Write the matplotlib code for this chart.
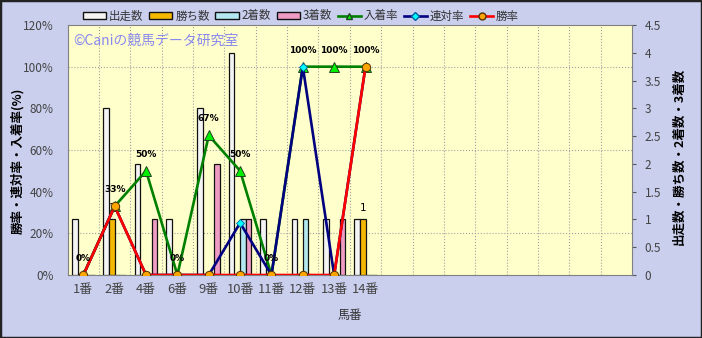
import numpy as np
import matplotlib
matplotlib.use('Agg')
from matplotlib import pyplot as plt
from matplotlib.patches import Patch, Rectangle
from matplotlib.lines import Line2D

plt.rcParams['font.family'] = ['Noto Sans CJK JP', 'DejaVu Sans']

# data
horses = ['1番', '2番', '4番', '6番', '9番', '10番', '11番', '12番', '13番', '14番']
n_slots = 18  # the category axis keeps room for 18 horses

starts = [1, 3, 2, 1, 3, 4, 1, 1, 1, 1]      # 出走数
wins = [0, 1, 0, 0, 0, 0, 0, 0, 0, 1]        # 勝ち数
seconds = [0, 0, 0, 0, 0, 1, 0, 1, 0, 0]     # 2着数
thirds = [0, 0, 1, 0, 2, 1, 0, 0, 1, 0]      # 3着数

place_rate = [0, 33, 50, 0, 67, 50, 0, 100, 100, 100]   # 入着率
quin_rate = [0, 33, 0, 0, 0, 25, 0, 100, 0, 100]        # 連対率
win_rate = [0, 33, 0, 0, 0, 0, 0, 0, 0, 100]           # 勝率

pct_ticks = [0, 20, 40, 60, 80, 100, 120]
cnt_ticks = [0, 0.5, 1, 1.5, 2, 2.5, 3, 3.5, 4, 4.5]

BG = '#CACFEE'
fig = plt.figure(figsize=(7.02, 3.38), dpi=100, facecolor=BG)
fig.patches.append(Rectangle((0, 0), 1, 1, transform=fig.transFigure,
                             fill=False, edgecolor='#222222', linewidth=2.5))

ax_bar = fig.add_axes([0.0964, 0.1864, 0.8039, 0.7396])
ax_bar.set_facecolor('#FFFFCC')
ax = ax_bar.twinx()
ax.patch.set_visible(False)

x = np.arange(len(horses))
w = 0.18
series = [(starts, '#F4F4F4'), (wins, '#F5B800'), (seconds, '#B4E8F0'), (thirds, '#EE9CC4')]
for i, (vals, col) in enumerate(series):
    ax_bar.bar(x + (i - 1.5) * w, vals, width=w, color=col,
               edgecolor='#111111', linewidth=0.9, zorder=2)

for xi, v in zip(x, wins):
    if v > 0:
        ax_bar.annotate(str(v), (xi - 0.5 * w, v), xytext=(0, 8.5),
                        textcoords='offset points', ha='center', va='center',
                        fontsize=7.5, family='DejaVu Sans', zorder=3)

ax_bar.set_xlim(-0.5, n_slots - 0.5)
ax_bar.set_ylim(0, 4.5)
ax_bar.yaxis.tick_right()
ax_bar.set_yticks(cnt_ticks)
ax_bar.set_yticklabels([('%g' % t) for t in cnt_ticks])
ax_bar.tick_params(axis='y', direction='out', length=3, pad=6,
                   labelsize=8.5, labelcolor='#444444', color='#555555')
# gridlines at 20% steps and at slot boundaries
ax_bar.set_yticks([p / 120 * 4.5 for p in pct_ticks[1:-1]], minor=True)
ax_bar.set_xticks(np.arange(n_slots - 1) + 0.5, minor=True)
ax_bar.tick_params(which='minor', length=0)
ax_bar.grid(which='minor', color='#A0A0A0', linestyle=':', linewidth=0.8)
ax_bar.set_axisbelow(True)
ax_bar.set_xticks(x)
ax_bar.set_xticklabels(horses)
ax_bar.tick_params(axis='x', length=0, pad=6, labelsize=9.3, labelcolor='#444444')
ax_bar.set_xlabel('馬番', fontsize=8.8, color='#333333', labelpad=9)
for s in ax_bar.spines.values():
    s.set_color('#808080')

# rate lines
ax.plot(x, place_rate, color='#008000', linewidth=1.9, marker='^', markersize=7,
        markerfacecolor='#00EE00', markeredgecolor='#224422', markeredgewidth=0.7, zorder=3)
ax.plot(x, quin_rate, color='#000080', linewidth=1.9, marker='D', markersize=4.5,
        markerfacecolor='#00FFFF', markeredgecolor='#0060A0', markeredgewidth=0.6, zorder=4)
ax.plot(x, win_rate, color='#FF0000', linewidth=1.9, marker='o', markersize=6,
        markerfacecolor='#FFA500', markeredgecolor='#553300', markeredgewidth=0.7, zorder=5)

for xi, v in zip(x, place_rate):
    ax.annotate('%d%%' % v, (xi, v), xytext=(0, 12), textcoords='offset points',
                ha='center', va='center', fontsize=6.5, fontweight='bold',
                family='DejaVu Sans', zorder=6)

ax.set_ylim(0, 120)
ax.yaxis.tick_left()
ax.set_yticks(pct_ticks)
ax.set_yticklabels(['%d%%' % t for t in pct_ticks])
ax.tick_params(axis='y', length=0, pad=10, labelsize=8.5, labelcolor='#444444')
for s in ax.spines.values():
    s.set_visible(False)

fig.text(18 / 702, 1 - 161 / 338, '勝率・連対率・入着率(%)', rotation=90,
         ha='center', va='center', fontsize=9, fontweight='bold')
fig.text(679 / 702, 1 - 156 / 338, '出走数・勝ち数・2着数・3着数', rotation=90,
         ha='center', va='center', fontsize=9, fontweight='bold')

ax.text(0.009, 0.935, '©Caniの競馬データ研究室', transform=ax.transAxes,
        fontsize=10, color='#8888EE', va='center', ha='left', zorder=1)

handles = [
    Patch(facecolor='#F4F4F4', edgecolor='#111111', label='出走数'),
    Patch(facecolor='#F5B800', edgecolor='#111111', label='勝ち数'),
    Patch(facecolor='#B4E8F0', edgecolor='#111111', label='2着数'),
    Patch(facecolor='#EE9CC4', edgecolor='#111111', label='3着数'),
    Line2D([], [], color='#008000', linewidth=1.9, marker='^', markersize=5,
           markerfacecolor='#00EE00', markeredgecolor='#224422', label='入着率'),
    Line2D([], [], color='#000080', linewidth=1.9, marker='D', markersize=4,
           markerfacecolor='#00FFFF', markeredgecolor='#0060A0', label='連対率'),
    Line2D([], [], color='#FF0000', linewidth=1.9, marker='o', markersize=5,
           markerfacecolor='#FFA500', markeredgecolor='#553300', label='勝率'),
]
fig.legend(handles=handles, loc='center', bbox_to_anchor=(301 / 702, 1 - 16 / 338),
           ncol=7, frameon=False, fontsize=8.3, handlelength=2.0, handleheight=0.55,
           handletextpad=0.25, columnspacing=0.5, labelcolor='#333333')

fig.savefig('out.png', dpi=100, facecolor=BG)
